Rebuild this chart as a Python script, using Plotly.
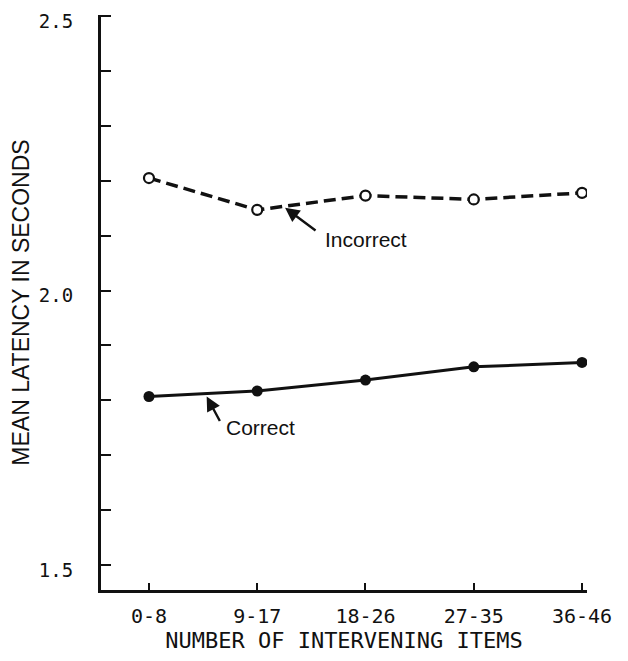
import plotly.graph_objects as go

# item ranges on the x axis
groups = ["0-8", "9-17", "18-26", "27-35", "36-46"]

# mean latency (seconds)
incorrect = [2.205, 2.147, 2.173, 2.166, 2.178]
correct = [1.807, 1.817, 1.837, 1.861, 1.869]

y_major = [1.5, 2.0, 2.5]
y_minor = [1.6, 1.7, 1.8, 1.9, 2.1, 2.2, 2.3, 2.4]

ink = "#111111"
mono = "DejaVu Sans Mono"
sans = "Liberation Sans"

fig = go.Figure()
fig.add_trace(
    go.Scatter(
        x=groups,
        y=incorrect,
        mode="lines+markers",
        name="Incorrect",
        line=dict(color=ink, width=3.5, dash="12px,6px"),
        marker=dict(symbol="circle", size=10, color="white",
                    line=dict(color=ink, width=2.2)),
    )
)
fig.add_trace(
    go.Scatter(
        x=groups,
        y=correct,
        mode="lines+markers",
        name="Correct",
        line=dict(color=ink, width=3),
        marker=dict(symbol="circle", size=11, color=ink),
    )
)

# labels with their little pointer arrows
arrow = dict(showarrow=True, arrowhead=2, arrowsize=1.2, arrowwidth=2.4,
             arrowcolor=ink, text="", axref="pixel", ayref="pixel")
fig.add_annotation(x=1.257, y=2.151, ax=32, ay=24, **arrow)
fig.add_annotation(x=0.533, y=1.807, ax=14, ay=26, **arrow)
fig.add_annotation(x=2.005, y=2.093, text="Incorrect", showarrow=False,
                   font=dict(family=sans, size=21, color=ink))
fig.add_annotation(x=1.026, y=1.751, text="Correct", showarrow=False,
                   font=dict(family=sans, size=21, color=ink))

tick_vals = sorted(y_major + y_minor)
tick_text = [f"{v:.1f}" if v in y_major else "" for v in tick_vals]

# the page body adds an 8px margin, so the figure is sized to fit inside it
fig.update_layout(
    width=612,
    height=645,
    margin=dict(l=93, r=33, t=7, b=63),
    paper_bgcolor="white",
    plot_bgcolor="white",
    showlegend=False,
    xaxis=dict(
        type="category",
        range=[-0.443, 4.046],
        automargin=False,
        showgrid=False,
        zeroline=False,
        showline=True,
        linecolor=ink,
        linewidth=2.5,
        ticks="inside",
        ticklen=7,
        tickwidth=2,
        tickcolor=ink,
        ticklabelstandoff=6,
        tickfont=dict(family=mono, size=20, color=ink),
        title=dict(text="NUMBER OF INTERVENING ITEMS", standoff=0,
                   font=dict(family=mono, size=22, color=ink)),
    ),
    yaxis=dict(
        range=[1.4545, 2.502],
        automargin=False,
        showgrid=False,
        zeroline=False,
        showline=True,
        linecolor=ink,
        linewidth=3,
        ticks="inside",
        ticklen=10,
        tickwidth=2,
        tickcolor=ink,
        tickvals=tick_vals,
        ticktext=tick_text,
        ticklabelstandoff=21,
        ticklabelshift=5,
        ticklabeloverflow="allow",
        tickfont=dict(family=mono, size=19, color=ink),
        title=dict(text="MEAN LATENCY IN SECONDS", standoff=4,
                   font=dict(family=sans, size=23, color=ink)),
    ),
)

fig.write_html("out.html")
